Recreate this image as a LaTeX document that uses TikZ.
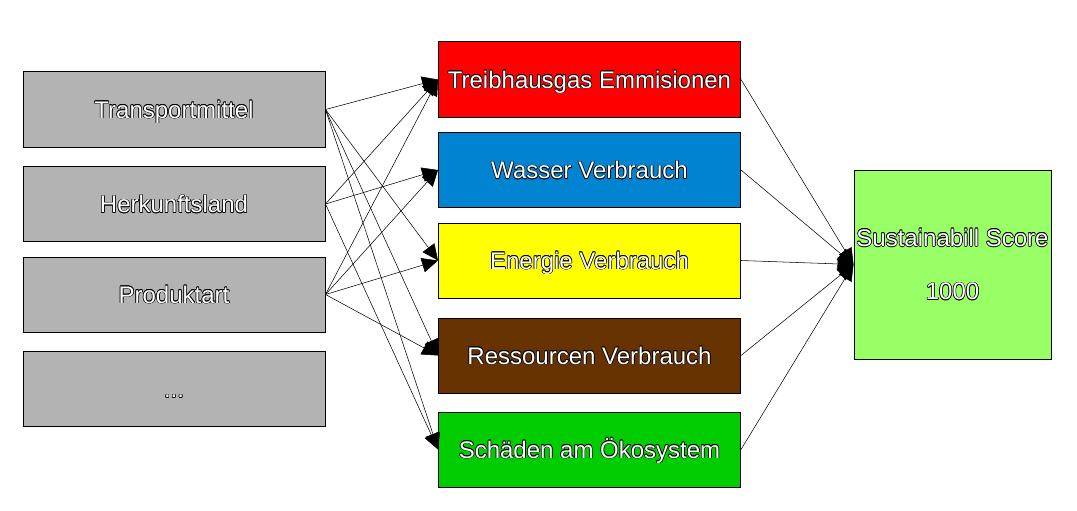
\documentclass[tikz,border=0pt]{standalone}
\usepackage{fontspec}
\setmainfont{Liberation Sans}
\usetikzlibrary{arrows.meta}
\definecolor{boxgray}{HTML}{B3B3B3}
\definecolor{boxred}{HTML}{FF0000}
\definecolor{boxblue}{HTML}{0084D1}
\definecolor{boxyellow}{HTML}{FFFF00}
\definecolor{boxbrown}{HTML}{663300}
\definecolor{boxgreen}{HTML}{00CC00}
\definecolor{boxlight}{HTML}{99FF66}
\newcommand\olt[1]{{\def\oo##1##2{\rlap{\hspace*{##1}\raisebox{##2}{\textcolor{black}{#1}}}}%
\oo{0.5pt}{0pt}\oo{-0.5pt}{0pt}\oo{0pt}{0.5pt}\oo{0pt}{-0.5pt}%
\oo{0.36pt}{0.36pt}\oo{-0.36pt}{0.36pt}\oo{0.36pt}{-0.36pt}\oo{-0.36pt}{-0.36pt}%
\textcolor{white}{#1}}}
\tikzset{
  box/.style={draw=black, line width=0.75pt, minimum width=226.5pt, minimum height=56.25pt,
    inner sep=0pt, font=\fontsize{18}{21}\selectfont, align=center},
  onebox/.style={box, text height=13pt, text depth=0pt},
  conn/.style={line width=0.4pt, draw=black, -{Triangle[length=12pt,width=11pt]}},
}
\begin{document}
\begin{tikzpicture}[x=0.75pt,y=-0.75pt]
\useasboundingbox (0,0) rectangle (1077,510);
% left column
\node[onebox, fill=boxgray] (t) at (174,109.5) {\olt{Transportmittel}};
\node[onebox, fill=boxgray] (h) at (174,204) {\olt{Herkunftsland}};
\node[onebox, fill=boxgray] (p) at (174,294.5) {\olt{Produktart}};
\node[onebox, fill=boxgray] (d) at (174,389) {\olt{...}};
% middle column
\node[onebox, fill=boxred] (m1) at (589.5,79.5) {\olt{Treibhausgas Emmisionen}};
\node[onebox, fill=boxblue] (m2) at (589.5,170) {\olt{Wasser Verbrauch}};
\node[onebox, fill=boxyellow] (m3) at (589.5,260.5) {\olt{Energie Verbrauch}};
\node[onebox, fill=boxbrown] (m4) at (589.5,355.5) {\olt{Ressourcen Verbrauch}};
\node[onebox, fill=boxgreen] (m5) at (589.5,449.5) {\olt{Schäden am Ökosystem}};
% right
\node[box, fill=boxlight, minimum width=147.75pt, minimum height=141.75pt] (s) at (952.5,264.5)
  {\olt{Sustainabill Score}\\[19pt]\olt{1000}};
% connectors left -> middle
\foreach \a/\b in {t/m1,t/m3,t/m4,t/m5,h/m1,h/m2,h/m5,p/m1,p/m2,p/m3,p/m4}
  \draw[conn] (\a.east) -- (\b.west);
% connectors middle -> right
\foreach \a in {m1,m2,m3,m4,m5}
  \draw[conn] (\a.east) -- (s.west);
\end{tikzpicture}
\end{document}
